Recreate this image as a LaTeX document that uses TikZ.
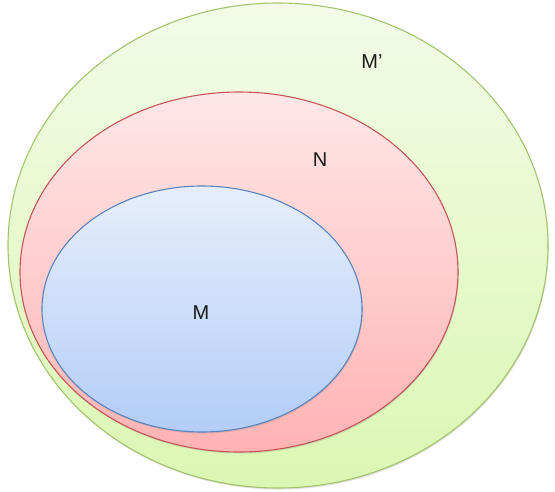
\documentclass[tikz,border=0pt]{standalone}
\usepackage{fontspec}
\setmainfont{Liberation Sans}
\usepackage{tikz}
\usetikzlibrary{positioning, shapes.geometric, shadows}
\definecolor{setgreen}{HTML}{A3C46C}
\definecolor{setred}{HTML}{C5575A}
\definecolor{setblue}{HTML}{5B84BE}
\definecolor{greentop}{HTML}{F3FBE8}
\definecolor{greenbot}{HTML}{DBF7B3}
\definecolor{redtop}{HTML}{FFE7E7}
\definecolor{redbot}{HTML}{FFB3B3}
\definecolor{bluetop}{HTML}{E6EEFC}
\definecolor{bluebot}{HTML}{B3CDF7}

\begin{document}
\begin{tikzpicture}[
  x=1pt, y=-1pt,
  set/.style={
    ellipse, inner sep=0pt, line width=1.1pt,
    drop shadow={shadow xshift=0.8pt, shadow yshift=-1.5pt, opacity=0.25}
  },
  lbl/.style={font=\fontsize{20}{22}\selectfont, text=black!90}
]
\useasboundingbox (0,0) rectangle (555,491);

% M'
\node[set, draw=setgreen, top color=greentop, bottom color=greenbot,
      minimum width=540pt, minimum height=485pt] (mp) at (278,245.5) {};
% N
\node[set, draw=setred, top color=redtop, bottom color=redbot,
      minimum width=438pt, minimum height=360pt] (n) at (239,272) {};
% M
\node[set, draw=setblue, top color=bluetop, bottom color=bluebot,
      minimum width=320pt, minimum height=246pt] (m) at (202,309) {};

% Labels
\node[lbl] (lmp) at (372,62) {M’};
\node[lbl] (ln) at (320,160) {N};
\node[lbl] (lm) at (201,313) {M};

\end{tikzpicture}
\end{document}
